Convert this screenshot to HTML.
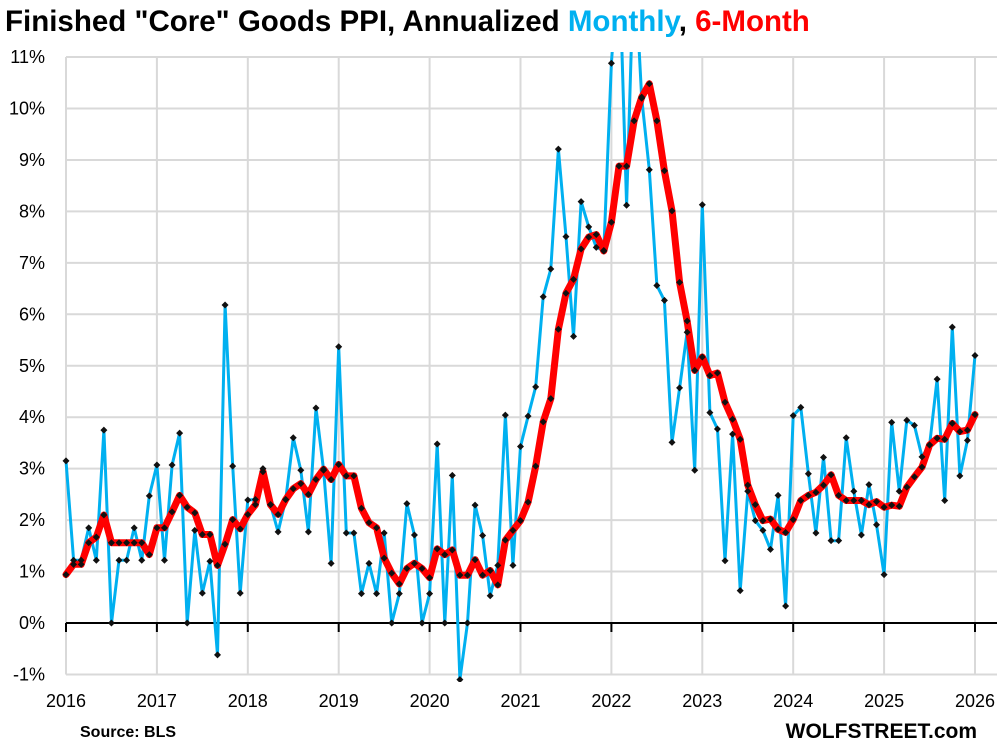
<!DOCTYPE html>
<html><head><meta charset="utf-8"><style>
html,body{margin:0;padding:0;background:#fff;}
svg{display:block;font-family:"Liberation Sans",Arial,sans-serif;}
</style></head><body>
<svg id="s" width="1007" height="752" viewBox="0 0 1007 752" xmlns="http://www.w3.org/2000/svg">
<defs><clipPath id="c"><rect x="60" y="52" width="945" height="630"/></clipPath></defs>
<text x="5" y="31" font-size="29.5" font-weight="bold" fill="#000">Finished "Core" Goods PPI, Annualized <tspan fill="#00B0F0">Monthly</tspan>, <tspan fill="#FF0000">6-Month</tspan></text>
<g id="grid"></g>
<g id="lbl" font-size="18" fill="#000"></g>
<g clip-path="url(#c)" id="ser"></g>
<text x="80" y="737" font-size="16" font-weight="bold">Source: BLS</text>
<text x="977" y="738" font-size="21" font-weight="bold" text-anchor="end">WOLFSTREET.com</text>
</svg>
<script>
var ns="http://www.w3.org/2000/svg";
function el(p,t,a,txt){var e=document.createElementNS(ns,t);for(var k in a)e.setAttribute(k,a[k]);if(txt!=null)e.textContent=txt;p.appendChild(e);return e;}
function Y(v){return 623-v*51.45;}
function X(i){return 66+i*(909/120);}
var g=document.getElementById('grid'),l=document.getElementById('lbl'),s=document.getElementById('ser');
for(var v=-1;v<=11;v++){ if(v!==0) el(g,'line',{x1:66,x2:997,y1:Y(v),y2:Y(v),stroke:'#d9d9d9','stroke-width':2});
 el(l,'text',{x:45,y:Y(v)+6,'text-anchor':'end'},v+'%');}
for(var yr=0;yr<=10;yr++){var x=X(yr*12);
 el(g,'line',{x1:x,x2:x,y1:Y(11),y2:Y(-1),stroke:'#d9d9d9','stroke-width':2});
 el(g,'line',{x1:x,x2:x,y1:623,y2:632,stroke:'#000','stroke-width':2});
 el(l,'text',{x:x,y:707,'text-anchor':'middle'},String(2016+yr));}
el(g,'line',{x1:66,x2:997,y1:623,y2:623,stroke:'#000','stroke-width':2});
var b=[3.15,1.22,1.22,1.85,1.22,3.75,0,1.22,1.22,1.85,1.22,2.47,
3.07,1.22,3.07,3.69,0,1.8,0.58,1.2,-0.62,6.18,3.05,0.58,
2.39,2.4,3.0,2.3,1.77,2.4,3.6,2.97,1.77,4.18,2.97,1.16,
5.37,1.75,1.75,0.57,1.16,0.57,1.75,0,0.57,2.32,1.71,0,
0.57,3.48,0,2.87,-1.1,0,2.29,1.7,0.53,1.12,4.04,1.12,
3.43,4.02,4.59,6.34,6.88,9.21,7.51,5.57,8.19,7.7,7.3,7.24,
10.88,13,8.12,13,10.2,8.81,6.56,6.27,3.51,4.57,5.65,2.97,
8.13,4.09,3.77,1.21,3.67,0.63,2.56,1.99,1.8,1.43,2.48,0.33,
4.03,4.19,2.9,1.75,3.22,1.6,1.6,3.6,2.56,1.71,2.69,1.91,
0.94,3.9,2.56,3.94,3.84,3.23,3.46,4.74,2.38,5.75,2.86,3.55,5.2];
var r=[0.94,1.14,1.14,1.56,1.67,2.1,1.56,1.56,1.56,1.56,1.56,1.33,
1.85,1.85,2.16,2.48,2.25,2.14,1.72,1.72,1.12,1.53,2.01,1.83,
2.11,2.3,2.94,2.3,2.11,2.4,2.61,2.71,2.5,2.79,2.99,2.79,
3.08,2.86,2.86,2.23,1.95,1.85,1.26,0.97,0.76,1.06,1.16,1.06,
0.88,1.44,1.33,1.42,0.93,0.93,1.23,0.93,1.02,0.74,1.61,1.8,
1.99,2.35,3.05,3.91,4.36,5.71,6.41,6.68,7.27,7.5,7.55,7.23,
7.79,8.88,8.88,9.76,10.22,10.48,9.76,8.79,8.01,6.62,5.87,4.91,
5.17,4.81,4.86,4.29,3.96,3.57,2.68,2.3,1.99,2.02,1.82,1.76,
2.01,2.38,2.48,2.54,2.68,2.88,2.48,2.38,2.38,2.38,2.3,2.36,
2.25,2.29,2.27,2.64,2.84,3.03,3.46,3.59,3.57,3.88,3.72,3.75,4.05];
function pts(a){return a.map(function(v,i){return X(i).toFixed(1)+','+Y(v).toFixed(1);}).join(' ');}
el(s,'polyline',{points:pts(b),fill:'none',stroke:'#00B0F0','stroke-width':3,'stroke-linejoin':'round'});
el(s,'polyline',{points:pts(r),fill:'none',stroke:'#FF0000','stroke-width':7,'stroke-linejoin':'round','stroke-linecap':'round'});
function dots(a){a.forEach(function(v,i){var x=X(i),y=Y(v);el(s,'path',{d:'M'+x+','+(y-3.5)+'L'+(x+3.5)+','+y+'L'+x+','+(y+3.5)+'L'+(x-3.5)+','+y+'Z',fill:'#111'});});}
dots(b);dots(r);
</script>
</body></html>
